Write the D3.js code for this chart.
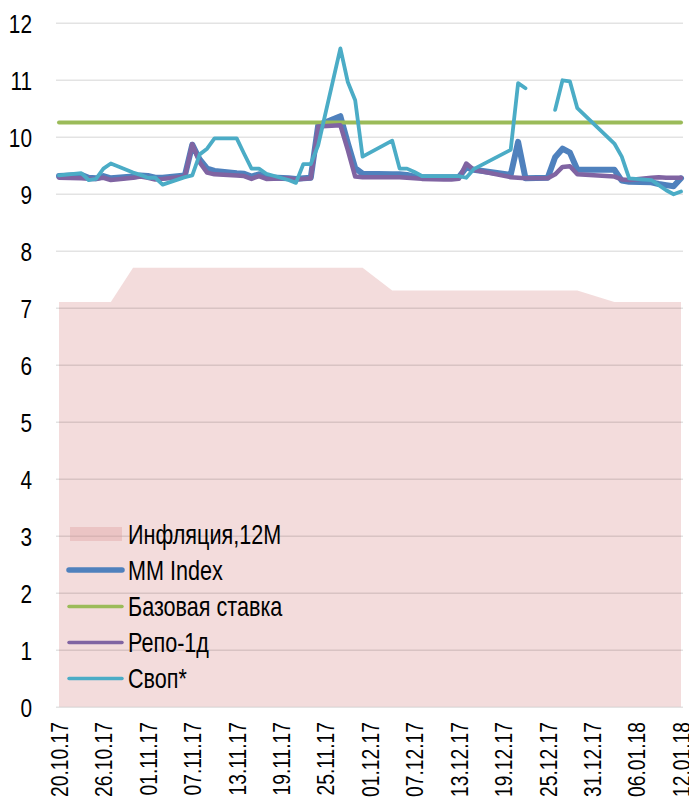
<!DOCTYPE html>
<html>
<head>
<meta charset="utf-8">
<script src="https://cdn.jsdelivr.net/npm/d3@7"></script>
<style>
  html, body { margin: 0; padding: 0; background: #fff; }
  svg { display: block; font-family: "Liberation Sans", Arial, sans-serif; }
</style>
</head>
<body>
<div id="chart"></div>
<script>
// Data (KASE trading days)
var dates = ["20.10.17","23.10.17","24.10.17","25.10.17","26.10.17","27.10.17","30.10.17","31.10.17",
  "01.11.17","02.11.17","03.11.17","06.11.17","07.11.17","08.11.17","09.11.17","10.11.17","13.11.17","14.11.17",
  "15.11.17","16.11.17","17.11.17","20.11.17","21.11.17","22.11.17","23.11.17","24.11.17","27.11.17","28.11.17",
  "29.11.17","30.11.17",
  "04.12.17","05.12.17","06.12.17","07.12.17","08.12.17","11.12.17","12.12.17","13.12.17","14.12.17","15.12.17",
  "20.12.17","21.12.17","22.12.17","25.12.17","26.12.17","27.12.17","28.12.17","29.12.17",
  "03.01.18","04.01.18","05.01.18","08.01.18","09.01.18","10.01.18","11.01.18","12.01.18"];

var inflation = [7.1,7.1,7.1,7.1,7.1,7.1,7.7,7.7,
  7.7,7.7,7.7,7.7,7.7,7.7,7.7,7.7,7.7,7.7,7.7,7.7,7.7,7.7,7.7,7.7,7.7,7.7,7.7,7.7,7.7,7.7,
  7.3,7.3,7.3,7.3,7.3,7.3,7.3,7.3,7.3,7.3,7.3,7.3,7.3,7.3,7.3,7.3,7.3,7.3,
  7.1,7.1,7.1,7.1,7.1,7.1,7.1,7.1];

var mmIndex = [9.31,9.33,9.28,9.27,9.31,9.27,9.30,9.32,
  9.31,9.28,9.28,9.32,9.86,9.60,9.44,9.40,9.36,9.35,9.30,9.34,9.29,9.27,9.26,9.27,9.28,10.20,10.36,9.89,9.45,9.35,
  9.34,9.34,9.33,9.30,9.29,9.29,9.29,9.29,9.46,9.42,9.33,9.91,9.27,9.28,9.64,9.79,9.72,9.42,
  9.42,9.23,9.21,9.20,9.17,9.15,9.13,9.27];

var baseRate = [10.25,10.25,10.25,10.25,10.25,10.25,10.25,10.25,
  10.25,10.25,10.25,10.25,10.25,10.25,10.25,10.25,10.25,10.25,10.25,10.25,10.25,10.25,10.25,10.25,10.25,10.25,10.25,10.25,10.25,10.25,
  10.25,10.25,10.25,10.25,10.25,10.25,10.25,10.25,10.25,10.25,10.25,10.25,10.25,10.25,10.25,10.25,10.25,10.25,
  10.25,10.25,10.25,10.25,10.25,10.25,10.25,10.25];

var repo = [9.28,9.27,9.26,9.26,9.28,9.24,9.28,9.30,
  9.28,9.25,9.26,9.30,9.87,9.55,9.37,9.34,9.32,9.31,9.26,9.31,9.26,9.27,9.25,9.26,9.27,10.18,10.20,9.77,9.30,9.29,
  9.29,9.29,9.28,9.27,9.26,9.25,9.25,9.26,9.53,9.42,9.29,9.28,9.27,9.27,9.34,9.47,9.48,9.34,
  9.30,9.25,9.24,9.28,9.29,9.28,9.28,9.28];

var swap = [9.32,9.36,9.24,9.26,9.44,9.53,9.37,9.33,
  9.28,9.28,9.16,9.29,9.32,9.69,9.79,9.97,9.97,9.70,9.44,9.44,9.35,9.24,9.19,9.52,9.52,9.85,11.55,10.96,10.64,9.65,
  9.93,9.44,9.44,9.38,9.31,9.31,9.31,9.31,9.28,9.43,9.77,10.94,10.85,null,10.47,10.99,10.97,10.50,
  9.88,9.65,9.27,9.24,9.15,9.06,8.99,9.04];

var xTicks = ["20.10.17","26.10.17","01.11.17","07.11.17","13.11.17","19.11.17","25.11.17","01.12.17",
  "07.12.17","13.12.17","19.12.17","25.12.17","31.12.17","06.01.18","12.01.18"];
var yTicks = [0,1,2,3,4,5,6,7,8,9,10,11,12];

var legendNames = ["Инфляция,12М","MM Index","Базовая ставка","Репо-1д","Своп*"];

// Setup
var W = 689, H = 798;
var x0 = 59, x1 = 681, yTop = 22.7, yBot = 706.7;
var condense = 0.8;

var parse = d3.timeParse("%d.%m.%y");
var fmt = d3.timeFormat("%d.%m.%y");
var days = dates.map(parse);

var x = d3.scaleTime()
  .domain([parse("20.10.17"), parse("12.01.18")])
  .range([x0, x1]);
var y = d3.scaleLinear()
  .domain([0, 12])
  .range([yBot, yTop]);

var svg = d3.select("#chart").append("svg")
  .attr("width", W)
  .attr("height", H);

function rows(vals){
  return days.map(function(d, i){ return {date: d, v: vals[i]}; });
}

// inflation area (drawn first)
var area = d3.area()
  .x(function(d){ return x(d.date); })
  .y0(y(0))
  .y1(function(d){ return y(d.v); });

svg.append("path")
  .datum(rows(inflation))
  .attr("d", area)
  .attr("fill", "rgb(220,150,148)")
  .attr("fill-opacity", 0.33);

// gridlines
var grid = svg.append("g")
  .attr("transform", "translate(" + (x0 - 3) + ",0)")
  .call(d3.axisLeft(y).tickValues(yTicks).tickSize(-(x1 - x0 + 5)).tickFormat(""));
grid.select(".domain").remove();
grid.selectAll("line").attr("stroke", "rgba(0,0,0,0.11)").attr("stroke-width", 1.5);

// y axis labels
var yAxis = svg.append("g")
  .attr("transform", "translate(32,0)")
  .call(d3.axisLeft(y).tickValues(yTicks).tickSize(0).tickPadding(0));
yAxis.select(".domain").remove();
yAxis.selectAll("text")
  .attr("x", 0)
  .attr("dy", "0.36em")
  .attr("text-anchor", "end")
  .attr("transform", "scale(" + condense + ",1)")
  .style("font-size", "26px")
  .style("fill", "#000")
  .style("font-family", "'Liberation Sans', Arial, sans-serif");

// x axis labels
var xAxis = svg.append("g")
  .attr("transform", "translate(0," + yBot + ")")
  .call(d3.axisBottom(x).tickValues(xTicks.map(parse)).tickFormat(fmt).tickSize(0));
xAxis.select(".domain").remove();
xAxis.selectAll("text")
  .attr("x", -15.5 / condense)
  .attr("y", 0)
  .attr("dy", "0.35em")
  .attr("text-anchor", "end")
  .attr("transform", "rotate(-90) scale(" + condense + ",1)")
  .style("font-size", "24px")
  .style("fill", "#000")
  .style("font-family", "'Liberation Sans', Arial, sans-serif");

// lines
var line = d3.line()
  .defined(function(d){ return d.v != null; })
  .x(function(d){ return x(d.date); })
  .y(function(d){ return y(d.v); });

var series = [
  {vals: mmIndex, color: "#4f81bd", width: 6},
  {vals: baseRate, color: "#9bbb59", width: 4},
  {vals: repo, color: "#8064a2", width: 4.5},
  {vals: swap, color: "#4bacc6", width: 3.8}
];

series.forEach(function(s){
  svg.append("path")
    .datum(rows(s.vals))
    .attr("d", line)
    .attr("fill", "none")
    .attr("stroke", s.color)
    .attr("stroke-width", s.width)
    .attr("stroke-linejoin", "round")
    .attr("stroke-linecap", "round");
});

// legend
var legendY = [534, 570, 606.5, 642.5, 678.5];
var lg = svg.append("g");
legendNames.forEach(function(name, i){
  var cy = legendY[i];
  if(i === 0){
    lg.append("rect")
      .attr("x", 70).attr("y", cy - 7)
      .attr("width", 52).attr("height", 14)
      .attr("fill", "rgb(220,150,148)")
      .attr("fill-opacity", 0.33);
  } else {
    var s = series[i - 1];
    lg.append("line")
      .attr("x1", 69).attr("x2", 122)
      .attr("y1", cy).attr("y2", cy)
      .attr("stroke", s.color)
      .attr("stroke-width", i === 1 ? 5.5 : 3.5)
      .attr("stroke-linecap", "round");
  }
  lg.append("g")
    .attr("transform", "translate(128," + cy + ") scale(" + condense + ",1)")
    .append("text")
      .attr("dy", "0.36em")
      .style("font-size", "27px")
      .style("fill", "#000")
      .text(name);
});
</script>
</body>
</html>
